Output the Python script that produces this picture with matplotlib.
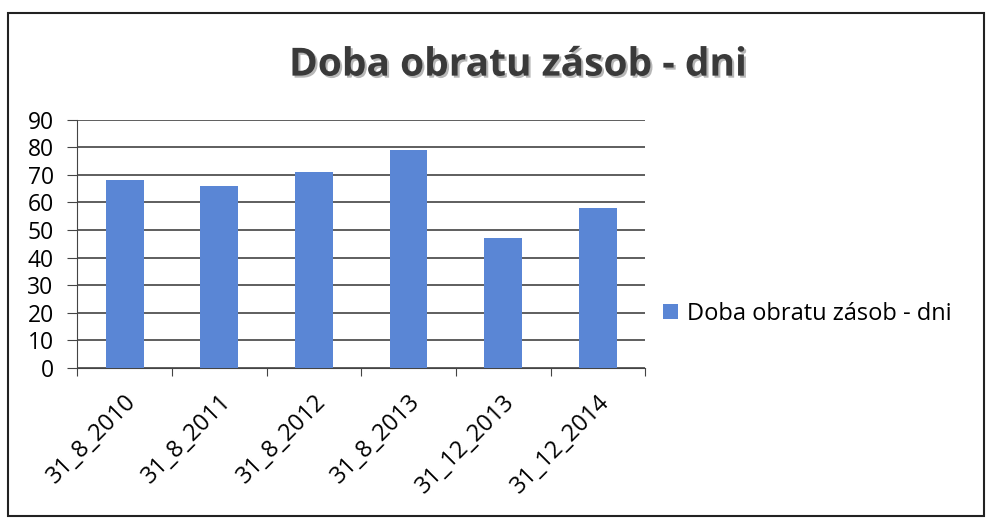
import matplotlib.pyplot as plt
import matplotlib.patheffects as pe
from matplotlib.patches import Rectangle
import numpy as np

# data
categories = ['31_8_2010', '31_8_2011', '31_8_2012', '31_8_2013', '31_12_2013', '31_12_2014']
values = [68, 66, 71, 79, 47, 58]
series_name = 'Doba obratu zásob - dni'
y_ticks = list(range(0, 100, 10))

plt.rcParams['font.family'] = ['Open Sans', 'DejaVu Sans']

fig = plt.figure(figsize=(9.91, 5.21), dpi=100)
ax = fig.add_axes([0.078, 0.294, 0.573, 0.476])

x = np.arange(len(categories))
bars = ax.bar(x, values, width=0.4, color='#5A86D5', label=series_name, zorder=3)

ax.set_ylim(0, 90)
ax.set_xlim(-0.5, len(categories) - 0.5)
ax.set_yticks(y_ticks)
ax.yaxis.grid(True, color='#333333', linewidth=1.1, zorder=0)
ax.tick_params(axis='y', labelsize=16.5, length=7, color='#444444', pad=10)

# ticks between categories, labels at centres
ax.set_xticks(np.arange(-0.5, len(categories), 1.0))
ax.set_xticklabels([])
ax.set_xticks(x, minor=True)
ax.set_xticklabels(categories, minor=True, rotation=45, ha='right', va='top',
                   rotation_mode='anchor', fontsize=17)
ax.tick_params(axis='x', which='major', length=6, color='#444444')
ax.tick_params(axis='x', which='minor', length=0, pad=16)

for side in ['top', 'right']:
    ax.spines[side].set_visible(False)
ax.spines['left'].set_color('#444444')
ax.spines['bottom'].set_color('#444444')

fig.text(0.522, 0.875, series_name, ha='center', va='center', fontsize=28,
         fontweight='bold', color='#3a3a3a',
         path_effects=[pe.withSimplePatchShadow(offset=(1.5, -1.5), shadow_rgbFace='#999999', alpha=0.7)])

fig.legend(handles=[bars], labels=[series_name], loc='center left',
           bbox_to_anchor=(0.648, 0.398), frameon=False, fontsize=17,
           handlelength=0.6, handleheight=0.6, handletextpad=0.4)

# outer frame of the chart
fig.patches.append(Rectangle((0.008, 0.01), 0.985, 0.965, transform=fig.transFigure,
                             fill=False, edgecolor='#222222', linewidth=1.5))

plt.savefig('out.png', dpi=100)
